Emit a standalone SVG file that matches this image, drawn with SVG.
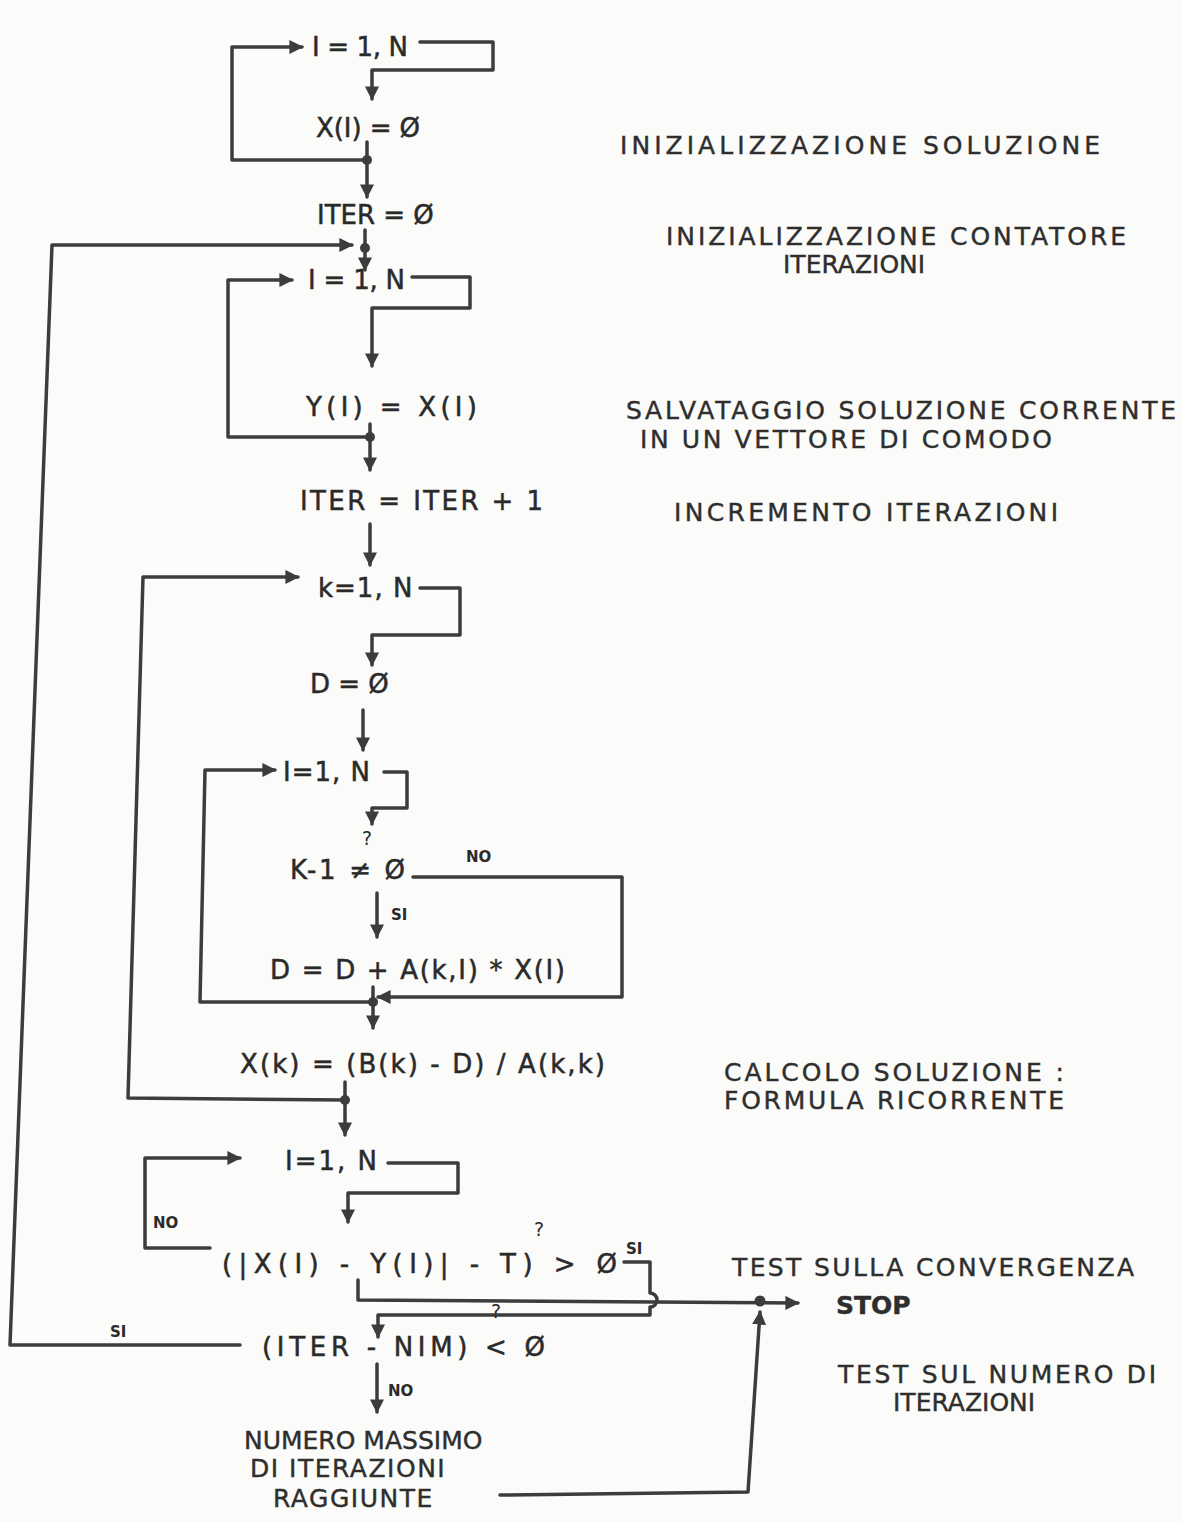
<svg xmlns="http://www.w3.org/2000/svg" width="1181" height="1522" viewBox="0 0 1181 1522">
<style>
.bg{fill:#fbfbf9}
.ln{fill:none;stroke:#3c3c3c;stroke-width:3.5;stroke-linejoin:round;stroke-linecap:round}
.t{font-family:"DejaVu Sans","Liberation Sans",sans-serif;fill:#2a2a2a;stroke:#2a2a2a;stroke-width:0.5;font-size:26px}
.a{font-family:"DejaVu Sans","Liberation Sans",sans-serif;fill:#2e2e2e;stroke:#2e2e2e;stroke-width:0.4;font-size:25px}
.s{font-family:"DejaVu Sans","Liberation Sans",sans-serif;fill:#2a2a2a;font-size:15px;font-weight:bold}
.q{font-family:"DejaVu Sans","Liberation Sans",sans-serif;fill:#2a2a2a;font-size:19px}
.dot{fill:#3c3c3c}
</style>
<defs>
<marker id="ah" viewBox="0 0 10 10" refX="9" refY="5" markerWidth="14" markerHeight="14" markerUnits="userSpaceOnUse" orient="auto">
<path d="M0,0 L10,5 L0,10 z" fill="#3c3c3c"/>
</marker>
</defs>
<rect class="bg" x="0" y="0" width="1181" height="1522"/>

<g id="connectors">
<path class="ln" d="M367,160 L232,160 L232,47 L302,47" marker-end="url(#ah)"/>
<path class="ln" d="M420,42 L493,42 L493,70 L372,70 L372,99" marker-end="url(#ah)"/>
<path class="ln" d="M367,142 L367,197" marker-end="url(#ah)"/>
<circle class="dot" cx="367" cy="160" r="5"/>
<path class="ln" d="M240,1345 L10,1345 L52,245 L352,245" marker-end="url(#ah)"/>
<path class="ln" d="M365,230 L365,270" marker-end="url(#ah)"/>
<circle class="dot" cx="365" cy="248" r="5"/>
<path class="ln" d="M370,437 L228,437 L228,280 L292,280" marker-end="url(#ah)"/>
<path class="ln" d="M412,277 L470,277 L470,308 L372,308 L372,366" marker-end="url(#ah)"/>
<path class="ln" d="M370,424 L370,470" marker-end="url(#ah)"/>
<circle class="dot" cx="370" cy="437" r="5"/>
<path class="ln" d="M370,524 L370,565" marker-end="url(#ah)"/>
<path class="ln" d="M345,1100 L128,1098 L143,577 L298,577" marker-end="url(#ah)"/>
<path class="ln" d="M420,588 L460,588 L460,635 L372,635 L372,665" marker-end="url(#ah)"/>
<path class="ln" d="M363,710 L363,750" marker-end="url(#ah)"/>
<path class="ln" d="M373,1002 L200,1002 L205,770 L275,770" marker-end="url(#ah)"/>
<path class="ln" d="M384,772 L407,772 L407,808 L372,808 L372,824" marker-end="url(#ah)"/>
<path class="ln" d="M413,877 L622,877 L622,997 L378,997" marker-end="url(#ah)"/>
<path class="ln" d="M377,893 L377,937" marker-end="url(#ah)"/>
<path class="ln" d="M373,987 L373,1028" marker-end="url(#ah)"/>
<circle class="dot" cx="373" cy="1002" r="5"/>
<path class="ln" d="M345,1082 L345,1135" marker-end="url(#ah)"/>
<circle class="dot" cx="345" cy="1100" r="5"/>
<path class="ln" d="M210,1248 L145,1248 L145,1158 L240,1158" marker-end="url(#ah)"/>
<path class="ln" d="M388,1163 L458,1163 L458,1193 L348,1193 L348,1222" marker-end="url(#ah)"/>
<path class="ln" d="M358,1280 L358,1300 L798,1303" marker-end="url(#ah)"/>
<circle class="dot" cx="760" cy="1301" r="5.5"/>
<path class="ln" d="M624,1262 L650,1262 L650,1293 A7,7 0 0 1 650,1307 L650,1315 L378,1315 L378,1337" marker-end="url(#ah)"/>
<path class="ln" d="M377,1364 L377,1412" marker-end="url(#ah)"/>
<path class="ln" d="M500,1495 L748,1492 L760,1312" marker-end="url(#ah)"/>
</g>

<g id="labels">
<text class="s" x="466" y="862">NO</text>
<text class="s" x="391" y="920">SI</text>
<text class="s" x="153" y="1228">NO</text>
<text class="s" x="626" y="1254">SI</text>
<text class="s" x="110" y="1337">SI</text>
<text class="s" x="388" y="1396">NO</text>
<text class="q" x="362" y="845">?</text>
<text class="q" x="534" y="1236">?</text>
<text class="q" x="491" y="1318">?</text>
</g>

<g id="n1"><text class="t" x="312" y="56" textLength="96" lengthAdjust="spacing">I = 1, N</text></g>
<g id="n2"><text class="t" x="316" y="137" textLength="104" lengthAdjust="spacing">X(I) = Ø</text></g>
<g id="n3"><text class="t" x="317" y="224" font-size="21">ITER = Ø</text></g>
<g id="n4"><text class="t" x="308" y="289" textLength="97" lengthAdjust="spacing">I = 1, N</text></g>
<g id="n5"><text class="t" x="306" y="416" font-size="32" textLength="171" lengthAdjust="spacing">Y(I) = X(I)</text></g>
<g id="n6"><text class="t" x="300" y="510" font-size="29" textLength="243" lengthAdjust="spacing">ITER = ITER + 1</text></g>
<g id="n7"><text class="t" x="318" y="597" font-size="22" letter-spacing="1">k=1, N</text></g>
<g id="n8"><text class="t" x="310" y="693" font-size="22">D = Ø</text></g>
<g id="n9"><text class="t" x="283" y="781" font-size="21" letter-spacing="1">I=1, N</text></g>
<g id="n10"><text class="t" x="290" y="879" font-size="28" textLength="115" lengthAdjust="spacing">K-1 ≠ Ø</text></g>
<g id="n11"><text class="t" x="270" y="979" font-size="29" textLength="295" lengthAdjust="spacing">D = D + A(k,I) * X(I)</text></g>
<g id="n12"><text class="t" x="240" y="1073" font-size="30" textLength="365" lengthAdjust="spacing">X(k) = (B(k) - D) / A(k,k)</text></g>
<g id="n13"><text class="t" x="285" y="1170" font-size="21" letter-spacing="2">I=1, N</text></g>
<g id="n14"><text class="t" x="222" y="1273" font-size="32" textLength="395" lengthAdjust="spacing">(|X(I) - Y(I)| - T) &gt; Ø</text></g>
<g id="n15"><text class="t" x="262" y="1356" font-size="31" textLength="283" lengthAdjust="spacing">(ITER - NIM) &lt; Ø</text></g>
<g id="n16">
<text class="a" x="244" y="1449" font-size="21">NUMERO MASSIMO</text>
<text class="a" x="250" y="1477" font-size="21" letter-spacing="1.5">DI ITERAZIONI</text>
<text class="a" x="273" y="1507" font-size="21" letter-spacing="1.5">RAGGIUNTE</text>
</g>
<g id="stop"><text class="a" x="836" y="1314" font-size="22" font-weight="bold">STOP</text></g>

<g id="notes">
<text class="a" x="620" y="154" textLength="480" lengthAdjust="spacing">INIZIALIZZAZIONE  SOLUZIONE</text>
<text class="a" x="666" y="245" font-size="23" textLength="460" lengthAdjust="spacing">INIZIALIZZAZIONE  CONTATORE</text>
<text class="a" x="783" y="273" font-size="18">ITERAZIONI</text>
<text class="a" x="626" y="419" font-size="22" textLength="550" lengthAdjust="spacing">SALVATAGGIO  SOLUZIONE  CORRENTE</text>
<text class="a" x="640" y="448" font-size="21" textLength="412" lengthAdjust="spacing">IN UN  VETTORE  DI  COMODO</text>
<text class="a" x="674" y="521" font-size="23" textLength="384" lengthAdjust="spacing">INCREMENTO  ITERAZIONI</text>
<text class="a" x="724" y="1081" font-size="23" textLength="340" lengthAdjust="spacing">CALCOLO  SOLUZIONE :</text>
<text class="a" x="724" y="1109" font-size="23" textLength="340" lengthAdjust="spacing">FORMULA  RICORRENTE</text>
<text class="a" x="732" y="1276" font-size="24" textLength="402" lengthAdjust="spacing">TEST  SULLA  CONVERGENZA</text>
<text class="a" x="838" y="1383" font-size="22" textLength="318" lengthAdjust="spacing">TEST SUL NUMERO DI</text>
<text class="a" x="893" y="1411" font-size="18">ITERAZIONI</text>
</g>
</svg>
